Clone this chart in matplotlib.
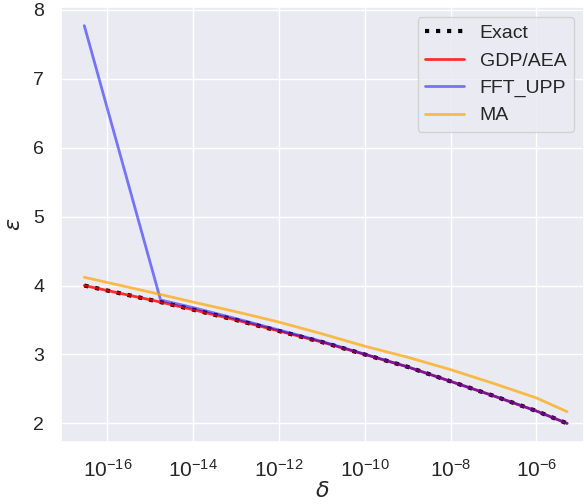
import numpy as np
import matplotlib
matplotlib.use("Agg")
import matplotlib.pyplot as plt
import seaborn as sns


# -----------------------------
# Data
# -----------------------------
delta = [2.9e-17, 1.74e-15, 1e-14, 1e-13, 1e-12, 1e-11, 1e-10,
         1e-9, 1e-8, 1e-7, 1e-6, 5.2e-6]

eps_exact = [4.00, 3.76, 3.65, 3.50, 3.34, 3.18, 3.00,
             2.82, 2.61, 2.40, 2.18, 2.00]
eps_gdp = [4.00, 3.76, 3.65, 3.50, 3.34, 3.18, 3.00,
           2.82, 2.61, 2.40, 2.18, 2.00]
eps_fft = [7.77, 3.79, 3.68, 3.52, 3.355, 3.19, 3.005,
           2.82, 2.61, 2.40, 2.18, 2.00]
eps_ma = [4.12, 3.87, 3.76, 3.62, 3.47, 3.30, 3.12,
          2.96, 2.78, 2.58, 2.37, 2.17]


# -----------------------------
# Style
# -----------------------------
sns.set_theme(style="darkgrid")
plt.rcParams["font.family"] = ["Liberation Sans", "DejaVu Sans"]

fig = plt.figure(figsize=(5.84, 5.04), dpi=100)
ax = fig.add_axes([0.1045, 0.123, 0.8955, 0.863])

ax.plot(delta, eps_exact, ":", color="black", linewidth=3, label="Exact")
ax.plot(delta, eps_gdp, color="red", alpha=0.8, linewidth=2, label="GDP/AEA")
ax.plot(delta, eps_fft, color="blue", alpha=0.5, linewidth=2, label="FFT_UPP")
ax.plot(delta, eps_ma, color="orange", alpha=0.7, linewidth=2, label="MA")

ax.set_xscale("log")
ax.set_xlim(10 ** -17.08, 10 ** -4.89)
ax.set_ylim(1.73, 8.04)
ax.set_xticks([1e-16, 1e-14, 1e-12, 1e-10, 1e-8, 1e-6])
ax.xaxis.set_minor_locator(matplotlib.ticker.NullLocator())
ax.tick_params(axis="y", labelsize=14, pad=6)
ax.tick_params(axis="x", labelsize=15, pad=6)

ax.set_xlabel(r"$\delta$", fontsize=16, labelpad=0)
ax.set_ylabel(r"$\varepsilon$", fontsize=16, labelpad=6)

ax.legend(loc="upper right", fontsize=14)

fig.savefig("out.png", dpi=100)
